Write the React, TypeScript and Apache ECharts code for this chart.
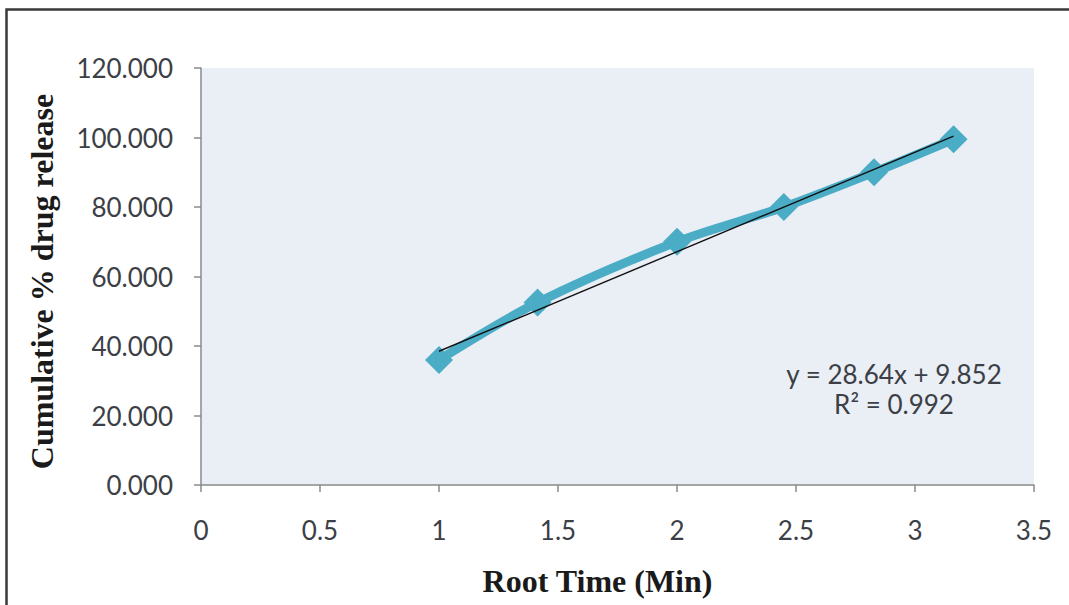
import React, { useEffect, useRef } from "react";
import * as echarts from "echarts";

const rootTime = [1, 1.414, 2, 2.449, 2.828, 3.162];
const cumulativeRelease = [36.0, 52.5, 70.0, 80.0, 90.0, 99.5];
const trendSlope = 28.64;
const trendIntercept = 9.852;
const equationText = "y = 28.64x + 9.852";
const r2Text = "R² = 0.992";
const xTitle = "Root Time (Min)";
const yTitle = "Cumulative % drug release";

export default function App() {
  const ref = useRef<HTMLDivElement>(null);
  useEffect(() => {
    if (!ref.current) return;
    const chart = echarts.init(ref.current, undefined, { renderer: "svg" });
    const seriesData = rootTime.map((x, i) => [x, cumulativeRelease[i]]);
    const x0 = rootTime[0];
    const x1 = rootTime[rootTime.length - 1];
    const trendData = [
      [x0, trendSlope * x0 + trendIntercept],
      [x1, trendSlope * x1 + trendIntercept],
    ];
    const labelFont = { fontFamily: "Lato", fontSize: 26, color: "#3c3f46" };
    const titleFont = {
      fontFamily: "Liberation Serif",
      fontSize: 32,
      fontWeight: "bold" as const,
      color: "#1a1a1a",
    };
    chart.setOption({
      animation: false,
      backgroundColor: "#ffffff",
      grid: {
        left: 201,
        right: 35,
        top: 68,
        bottom: 120,
        show: true,
        backgroundColor: "#eaeef5",
        borderWidth: 0,
      },
      xAxis: {
        type: "value",
        min: 0,
        max: 3.5,
        interval: 0.5,
        name: xTitle,
        nameLocation: "middle",
        nameGap: 80,
        nameTextStyle: { ...titleFont, padding: [0, 40, 0, 0] },
        splitLine: { show: false },
        axisLine: { show: true, onZero: false, lineStyle: { color: "#8a8a8a", width: 1.5 } },
        axisTick: { show: true, length: 7, lineStyle: { color: "#8a8a8a", width: 1.5 } },
        axisLabel: { ...labelFont, margin: 32, formatter: (v: number) => String(v) },
      },
      yAxis: {
        type: "value",
        min: 0,
        max: 120,
        interval: 20,
        name: yTitle,
        nameLocation: "middle",
        nameGap: 143,
        nameRotate: 90,
        nameTextStyle: { ...titleFont, padding: [0, 10, 0, 0] },
        splitLine: { show: false },
        axisLine: { show: true, lineStyle: { color: "#8a8a8a", width: 1.5 } },
        axisTick: { show: true, length: 7, lineStyle: { color: "#8a8a8a", width: 1.5 } },
        axisLabel: { ...labelFont, margin: 28, formatter: (v: number) => v.toFixed(3) },
      },
      series: [
        {
          type: "line",
          data: seriesData,
          smooth: 0.3,
          symbol: "diamond",
          symbolSize: 28,
          itemStyle: { color: "#4bacc6" },
          lineStyle: { color: "#4bacc6", width: 9 },
          z: 2,
        },
        {
          type: "line",
          data: trendData,
          symbol: "none",
          lineStyle: { color: "#111111", width: 1.4 },
          z: 3,
        },
      ],
      graphic: [
        {
          type: "rect",
          shape: { x: 6.5, y: 9.5, width: 1200, height: 800 },
          style: { fill: "none", stroke: "#3a3a3a", lineWidth: 2.5 },
          z: 100,
        },
        {
          type: "text",
          x: 894,
          y: 374,
          style: {
            text: equationText,
            font: "26px Lato",
            fill: "#3c3f46",
            textAlign: "center",
            textVerticalAlign: "middle",
          },
          z: 100,
        },
        {
          type: "text",
          x: 894,
          y: 404,
          style: {
            text: r2Text,
            font: "26px Lato",
            fill: "#3c3f46",
            textAlign: "center",
            textVerticalAlign: "middle",
          },
          z: 100,
        },
      ],
    });
    return () => chart.dispose();
  }, []);
  return (
    <div
      ref={ref}
      style={{ position: "absolute", left: 0, top: 0, width: 1069, height: 605 }}
    />
  );
}
